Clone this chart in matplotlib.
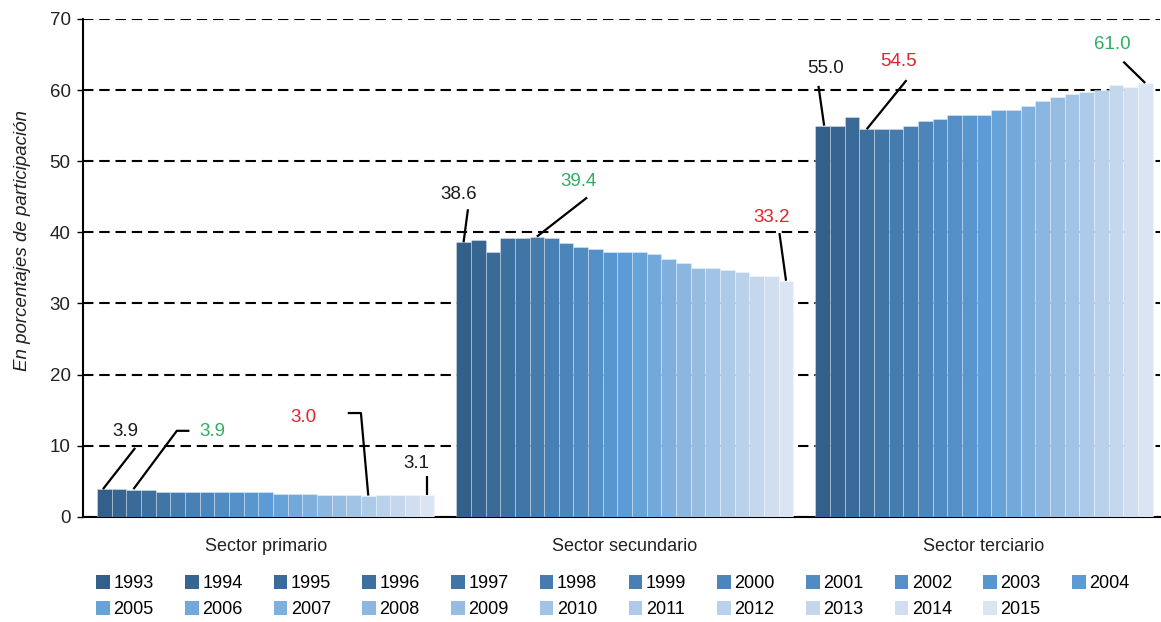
import numpy as np
import matplotlib.pyplot as plt
from matplotlib.colors import LinearSegmentedColormap
from matplotlib.patches import Patch

plt.rcParams['font.family'] = ['Liberation Sans', 'DejaVu Sans']

# --- Data: participation by sector, 1993-2015 ---
years = list(range(1993, 2016))
sectors = ["Sector primario", "Sector secundario", "Sector terciario"]

primario = [3.9, 3.9, 3.8, 3.8, 3.5, 3.5, 3.5, 3.5, 3.5, 3.5, 3.5, 3.5,
            3.2, 3.2, 3.2, 3.1, 3.1, 3.1, 3.0, 3.1, 3.1, 3.1, 3.1]
secundario = [38.6, 38.9, 37.2, 39.2, 39.2, 39.4, 39.2, 38.5, 37.9, 37.6, 37.3, 37.3,
              37.3, 36.9, 36.3, 35.7, 35.0, 35.0, 34.7, 34.4, 33.8, 33.8, 33.2]
terciario = [55.0, 55.0, 56.2, 54.5, 54.6, 54.6, 54.9, 55.6, 55.9, 56.5, 56.5, 56.5,
             57.2, 57.2, 57.8, 58.5, 59.1, 59.4, 59.7, 60.0, 60.7, 60.4, 61.0]
series = [primario, secundario, terciario]

# highlighted values: (sector, year, colour, text offset, leader line offsets)
BLACK, GREEN, RED = "#1a1a1a", "#2fae62", "#e8202e"
callouts = [
    (0, 1993, BLACK, (1.41, 8.1), [(-0.1, 0), (2.1, 5.8)]),
    (0, 1994, GREEN, (6.33, 8.1), [(0.98, 0), (3.94, 8.2), (4.8, 8.2)]),
    (0, 2011, RED, (-4.44, 11.0), [(0, 0), (-0.5, 11.6), (-1.4, 11.6)]),
    (0, 2015, BLACK, (-0.73, 4.45), [(0, 0), (0, 2.6)]),
    (1, 1993, BLACK, (-0.34, 6.66), [(0, 0), (0.3, 4.65)]),
    (1, 1998, GREEN, (2.86, 7.73), [(0, 0), (3.43, 5.5)]),
    (1, 2015, RED, (-1.0, 8.9), [(0, 0), (-0.45, 6.7)]),
    (2, 1993, BLACK, (0.19, 7.97), [(0.1, 0), (-0.29, 5.6)]),
    (2, 1996, RED, (2.18, 9.5), [(0, 0), (2.72, 6.9)]),
    (2, 2015, GREEN, (-2.23, 5.35), [(0, 0), (-1.49, 3.0)]),
]

# --- Layout ---
group_start = [0, 24.5, 49]
n = len(years)
cmap = LinearSegmentedColormap.from_list(
    "blues", ["#33608b", "#5b9bd5", "#dbe4f2"])
colors = [cmap(i / (n - 1)) for i in range(n)]

fig = plt.figure(figsize=(11.61, 6.22), dpi=100)
ax = fig.add_axes([0.0715, 0.169, 0.9275, 0.8005])

for g, vals in enumerate(series):
    x = group_start[g] + np.arange(n) + 0.5
    ax.bar(x, vals, width=1.0, color=colors, edgecolor=(1, 1, 1, 0.45),
           linewidth=0.5, zorder=3)

for g, year, col, (tx, ty), pts in callouts:
    i = years.index(year)
    val = series[g][i]
    bx = group_start[g] + i + 0.5
    ax.plot([bx + dx for dx, dy in pts], [val + dy for dx, dy in pts],
            color="black", lw=1.6, zorder=4, solid_capstyle="butt")
    ax.text(bx + tx, val + ty, f"{val:.1f}", color=col, fontsize=13.5,
            ha="center", va="center", zorder=5)

ax.set_xlim(-0.96, 72.5)
ax.set_ylim(0, 70)
ax.set_yticks(range(0, 71, 10))
ax.yaxis.grid(True, color="black", linestyle=(0, (5, 2.8)), linewidth=1.5)
ax.set_axisbelow(True)
ax.tick_params(axis="y", labelsize=13.5, length=4, width=1, pad=5,
               labelcolor="#222222")
ax.set_xticks([s + n / 2 for s in group_start])
ax.set_xticklabels(sectors, fontsize=13, color="#222222")
ax.tick_params(axis="x", length=0, pad=15)
for side in ("top", "right"):
    ax.spines[side].set_visible(False)
ax.spines["left"].set_linewidth(1.5)
ax.spines["bottom"].set_linewidth(1.5)

fig.text(0.019, 0.614, "En porcentajes de participación", fontsize=13.5,
         style="italic", color="#222222", rotation=90, ha="center", va="center")

# legend in two rows, filled row by row
ncol = 12
handles = [Patch(facecolor=c, edgecolor="none") for c in colors]
order = []
for c in range(ncol):
    for r in range(2):
        k = r * ncol + c
        if k < n:
            order.append(k)
fig.legend([handles[k] for k in order], [str(years[k]) for k in order],
           ncol=ncol, loc="upper left", bbox_to_anchor=(0.083, 0.075),
           frameon=False, fontsize=13, handlelength=0.75, handleheight=0.75,
           handletextpad=0.2, columnspacing=1.73, labelspacing=0.5,
           borderpad=0, borderaxespad=0)

fig.savefig("out.png", dpi=100)
